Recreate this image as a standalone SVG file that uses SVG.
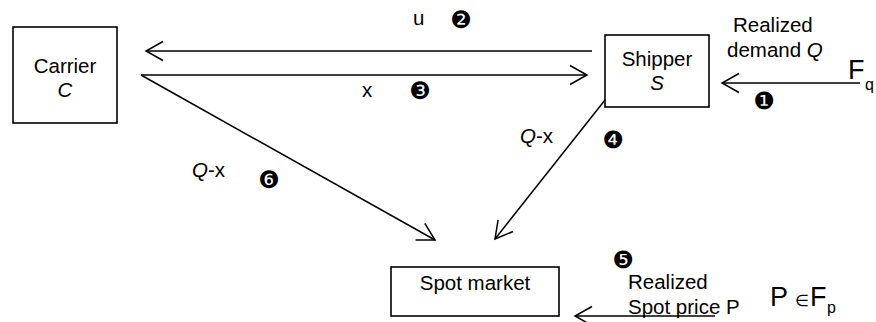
<svg xmlns="http://www.w3.org/2000/svg" width="876" height="322" viewBox="0 0 876 322">
<style>
.box{fill:#fff;stroke:#000;stroke-width:1.6}
.t{font-family:"Liberation Sans",Arial,sans-serif;font-size:20.5px;fill:#000}
.c{text-anchor:middle}
.n{font-family:"DejaVu Sans",sans-serif;font-size:24px;fill:#000;text-anchor:middle;dominant-baseline:central}
.big{font-family:"Liberation Sans",Arial,sans-serif;font-size:27px;fill:#000}
.sub{font-family:"Liberation Sans",Arial,sans-serif;font-size:16px;fill:#000}
.ln{stroke:#000;stroke-width:1.5;fill:none;marker-end:url(#ah)}
</style>
<defs>
<marker id="ah" markerUnits="userSpaceOnUse" viewBox="-20 -12 22 24" refX="0" refY="0" markerWidth="22" markerHeight="24" orient="auto">
<path d="M-17,-9.5 L0,0 L-17,9.5" fill="none" stroke="#000" stroke-width="1.5"/>
</marker>
</defs>
<rect width="876" height="322" fill="#fff"/>
<g id="connectors">
<line class="ln" x1="592" y1="51" x2="146" y2="51"/>
<line class="ln" x1="141" y1="75" x2="587" y2="75"/>
<line class="ln" x1="860" y1="83" x2="722" y2="83"/>
<line class="ln" x1="605" y1="100" x2="495" y2="239"/>
<line class="ln" x1="141" y1="75" x2="435" y2="240"/>
<line class="ln" x1="715" y1="316" x2="575" y2="316"/>
</g>
<g id="carrier">
<rect class="box" x="13" y="27" width="104" height="96"/>
<text class="t c" x="65" y="73">Carrier</text>
<text class="t c" x="65" y="97" font-style="italic">C</text>
</g>
<g id="shipper">
<rect class="box" x="605" y="35" width="104" height="72"/>
<text class="t c" x="657" y="66">Shipper</text>
<text class="t c" x="657" y="90" font-style="italic">S</text>
</g>
<g id="spot-market">
<rect class="box" x="391" y="267" width="168" height="49"/>
<text class="t c" x="475" y="290">Spot market</text>
</g>
<g id="labels">
<text class="t" x="413" y="25">u</text>
<text class="n" x="461" y="20">❷</text>
<text class="t" x="362" y="97">x</text>
<text class="n" x="420" y="91">❸</text>
<text class="t" x="733" y="32">Realized</text>
<text class="t" x="727" y="57">demand <tspan font-style="italic">Q</tspan></text>
<text class="big" x="848" y="79">F</text>
<text class="sub" x="865" y="90">q</text>
<text class="n" x="764" y="101">❶</text>
<text class="n" x="613" y="140">❹</text>
<text class="t" x="520" y="143"><tspan font-style="italic">Q</tspan>-x</text>
<text class="t" x="192" y="177"><tspan font-style="italic">Q</tspan>-x</text>
<text class="n" x="269" y="180">❻</text>
<text class="n" x="623" y="260">❺</text>
<text class="t" x="628" y="289">Realized</text>
<text class="t" x="628" y="314">Spot price P</text>
<text class="big" x="770" y="306">P</text>
<text class="sub" x="795" y="306">∈</text>
<text class="big" x="810" y="306">F</text>
<text class="sub" x="827" y="313">p</text>
</g>
</svg>
